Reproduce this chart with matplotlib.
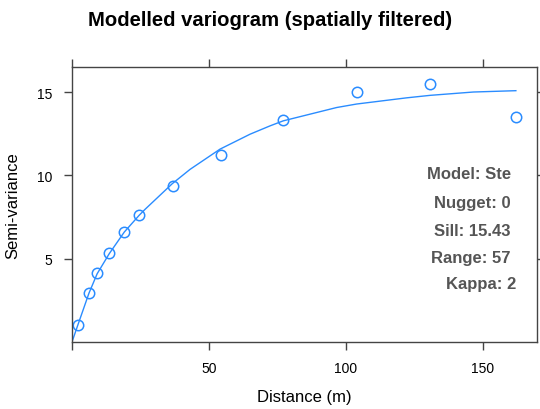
import matplotlib
matplotlib.use("Agg")
import matplotlib.pyplot as plt

plt.rcParams['font.family'] = ['Liberation Sans', 'DejaVu Sans']

# --- sample variogram ---
dist = [2.1, 6.2, 9.2, 13.6, 19.1, 24.5, 36.7, 54.4, 77.1, 103.9, 130.7, 162.0]
gamma = [1.0, 2.93, 4.14, 5.36, 6.61, 7.61, 9.36, 11.25, 13.33, 15.02, 15.48, 13.51]

# --- fitted model line ---
fit_dist = [0, 2.1, 6.2, 9.2, 13.6, 19.1, 24.5, 26.6, 36.6, 43.1, 54.0, 65.0,
            72.3, 77.1, 96.6, 103.9, 122.1, 130.7, 146.5, 162.0]
fit_gamma = [0, 1.0, 2.93, 4.1, 5.3, 6.6, 7.6, 7.95, 9.5, 10.36, 11.57, 12.47,
             12.97, 13.27, 14.07, 14.28, 14.65, 14.8, 15.0, 15.08]

info = ["Model: Ste", "Nugget: 0", "Sill: 15.43", "Range: 57", "Kappa: 2"]
info_x = [0.944, 0.944, 0.944, 0.944, 0.955]
info_y = [0.611, 0.509, 0.407, 0.309, 0.211]

xticks = [0, 50, 100, 150]
xlabels = ['', '50', '100', '150']
yticks = [5, 10, 15]

blue = '#2A8CFF'
frame = '#444444'

fig = plt.figure(figsize=(5.4, 4.1), dpi=100)
ax = fig.add_axes([0.1333, 0.1634, 0.8611, 0.6707])

ax.plot(fit_dist, fit_gamma, color=blue, lw=1.0)
ax.plot(dist, gamma, 'o', mfc='none', mec=blue, ms=7.5, mew=1.1)

ax.set_xlim(0, 169.7)
ax.set_ylim(0, 16.5)
ax.set_xticks(xticks)
ax.set_xticklabels(xlabels)
ax.set_yticks(yticks)
ax.tick_params(direction='out', length=6, width=1, color=frame,
               labelsize=10, top=True, right=True, pad=8)
for s in ax.spines.values():
    s.set_color(frame)
    s.set_linewidth(1)

ax.set_xlabel("Distance (m)", fontsize=12, labelpad=10)
ax.set_ylabel("Semi-variance", fontsize=12, labelpad=12)
fig.suptitle("Modelled variogram (spatially filtered)", fontsize=14.6,
             fontweight='bold', x=0.5, y=0.972)

for t, x, y in zip(info, info_x, info_y):
    ax.text(x, y, t, transform=ax.transAxes, ha='right', va='center',
            fontsize=12, fontweight='bold', color='#555555')

fig.savefig("out.png", dpi=100)
